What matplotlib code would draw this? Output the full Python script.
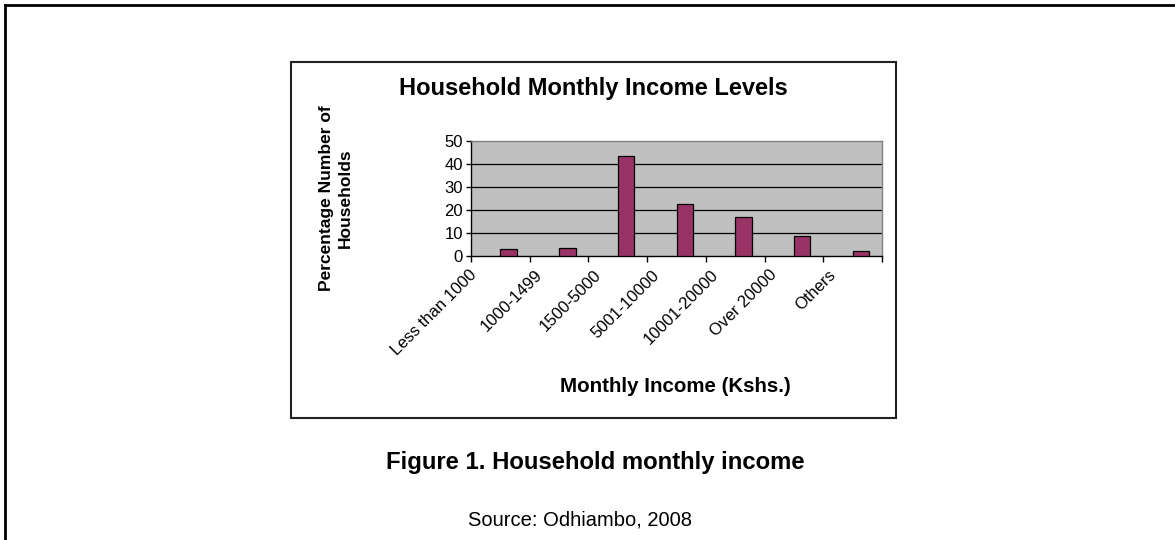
import matplotlib
matplotlib.use("Agg")
import matplotlib.pyplot as plt
from matplotlib.patches import Rectangle
from matplotlib.lines import Line2D
import numpy as np

categories = ["Less than 1000", "1000-1499", "1500-5000", "5001-10000",
              "10001-20000", "Over 20000", "Others"]
percentages = [2.9, 3.4, 43.4, 22.5, 16.9, 8.7, 2.3]
y_ticks = [0, 10, 20, 30, 40, 50]

plt.rcParams['font.family'] = ['Liberation Sans', 'DejaVu Sans']

W, H = 1175, 540
fig = plt.figure(figsize=(W / 100, H / 100), dpi=100)
fig.patch.set_facecolor('white')

# outer page border (top and left)
fig.add_artist(Line2D([5 / W, 1.0], [1 - 5 / H, 1 - 5 / H], color='black', lw=2.0,
                      transform=fig.transFigure))
fig.add_artist(Line2D([5 / W, 5 / W], [0, 1 - 5 / H], color='black', lw=2.0,
                      transform=fig.transFigure))

# chart frame
fig.add_artist(Rectangle((291 / W, 1 - 418 / H), 605 / W, 356 / H, fill=False,
                         edgecolor='#202020', lw=1.5, transform=fig.transFigure))

ax = fig.add_axes([471 / W, 1 - 256 / H, 411 / W, 115 / H])
ax.set_facecolor('#C0C0C0')

x = np.arange(len(categories))
ax.bar(x + 0.5, percentages, width=0.28, align='edge', color='#993366',
       edgecolor='black', linewidth=0.9, zorder=3)

ax.set_xlim(0, len(categories))
ax.set_ylim(0, 50)
ax.set_yticks(y_ticks)
ax.set_yticklabels([str(v) for v in y_ticks], fontsize=12)
for v in y_ticks[1:-1]:
    ax.axhline(v, color='black', lw=0.9, zorder=1)

label_offsets = [0.06, 0.17, 0.17, 0.17, 0.17, 0.17, 0.17]
ax.set_xticks(np.arange(len(categories) + 1))
ax.set_xticklabels([])
ax.set_xticks(x + np.array(label_offsets), minor=True)
ax.set_xticklabels(categories, minor=True, rotation=45, ha='right',
                   va='center', rotation_mode='anchor', fontsize=12)
ax.tick_params(axis='x', which='minor', length=0, pad=12)
ax.tick_params(axis='x', which='major', direction='out', length=4.3, width=1)
ax.tick_params(axis='y', direction='out', length=3.6, width=1, pad=2.2)

for s in ['top', 'right']:
    ax.spines[s].set_color('#808080')
    ax.spines[s].set_linewidth(1.0)
for s in ['left', 'bottom']:
    ax.spines[s].set_color('black')
    ax.spines[s].set_linewidth(1.0)

fig.text(593 / W, 1 - 88 / H, "Household Monthly Income Levels", ha='center',
         va='center', fontsize=17, fontweight='bold')
fig.text(336 / W, 1 - 198 / H, "Percentage Number of\nHouseholds", ha='center',
         va='center', rotation=90, fontsize=12.5, fontweight='bold', linespacing=1.35,
         multialignment='center')
fig.text(675 / W, 1 - 387 / H, "Monthly Income (Kshs.)", ha='center', va='center',
         fontsize=14.8, fontweight='bold')
fig.text(595 / W, 1 - 463 / H, "Figure 1. Household monthly income", ha='center',
         va='center', fontsize=17.2, fontweight='bold')
fig.text(580 / W, 1 - 520 / H, "Source: Odhiambo, 2008", ha='center', va='center',
         fontsize=14.5)

fig.savefig('out.png', dpi=100, facecolor='white')
